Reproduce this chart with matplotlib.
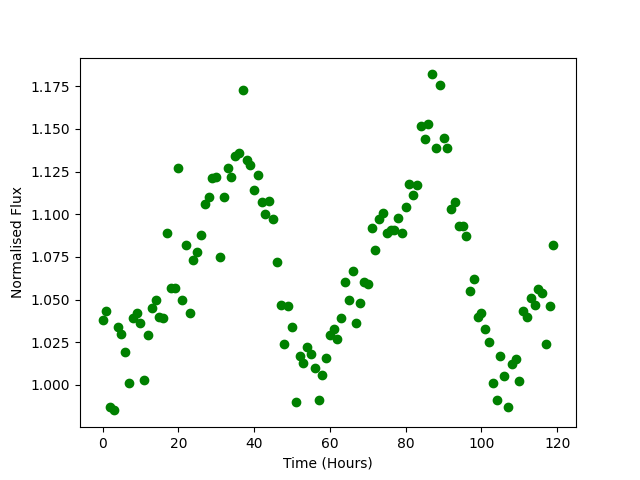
import numpy as np
import matplotlib
matplotlib.use("Agg")
import matplotlib.pyplot as plt

# time in hours, one sample per hour
hours = np.arange(120)

flux = [
    1.038, 1.043, 0.987, 0.985, 1.034, 1.030, 1.019, 1.001, 1.039, 1.042,
    1.036, 1.003, 1.029, 1.045, 1.050, 1.040, 1.039, 1.089, 1.057, 1.057,
    1.127, 1.050, 1.082, 1.042, 1.073, 1.078, 1.088, 1.106, 1.110, 1.121,
    1.122, 1.075, 1.110, 1.127, 1.122, 1.134, 1.136, 1.173, 1.132, 1.129,
    1.114, 1.123, 1.107, 1.100, 1.108, 1.097, 1.072, 1.047, 1.024, 1.046,
    1.034, 0.990, 1.017, 1.013, 1.022, 1.018, 1.010, 0.991, 1.006, 1.016,
    1.029, 1.033, 1.027, 1.039, 1.060, 1.050, 1.067, 1.036, 1.048, 1.060,
    1.059, 1.092, 1.079, 1.097, 1.101, 1.089, 1.091, 1.091, 1.098, 1.089,
    1.104, 1.118, 1.111, 1.117, 1.152, 1.144, 1.153, 1.182, 1.139, 1.176,
    1.145, 1.139, 1.103, 1.107, 1.093, 1.093, 1.087, 1.055, 1.062, 1.040,
    1.042, 1.033, 1.025, 1.001, 0.991, 1.017, 1.005, 0.987, 1.012, 1.015,
    1.002, 1.043, 1.040, 1.051, 1.047, 1.056, 1.054, 1.024, 1.046, 1.082,
]

fig, ax = plt.subplots(figsize=(6.4, 4.8), dpi=100)
ax.plot(hours, flux, 'o', color='green')
ax.set_xlabel("Time (Hours)")
ax.set_ylabel("Normalised Flux")

plt.savefig("out.png")
